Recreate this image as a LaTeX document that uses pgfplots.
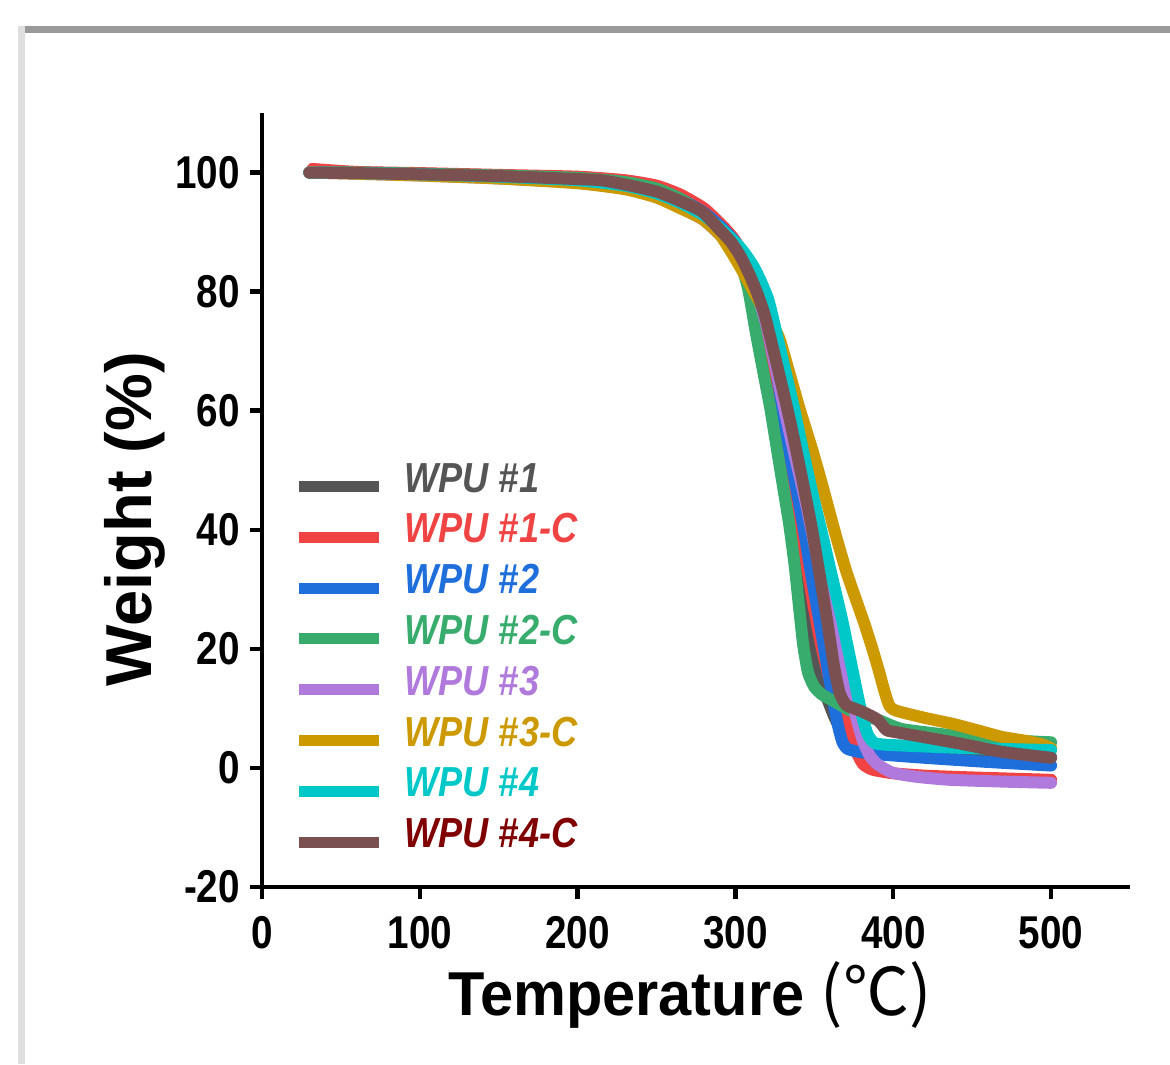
\documentclass[border=0pt]{standalone}
\usepackage{fontspec}
\setmainfont{Liberation Sans}
\newfontfamily\tickfont[FakeStretch=0.84]{Liberation Sans}
\newfontfamily\legfont[FakeStretch=0.86]{Liberation Sans}
\newfontfamily\xlabfont[FakeStretch=0.96]{Liberation Sans}
\newfontfamily\cjk{Noto Sans CJK SC}
\usepackage{pgfplots}
\pgfplotsset{compat=1.18}
\usepackage{pgfplotstable}

\definecolor{cA}{HTML}{555555}
\definecolor{cB}{HTML}{F04343}
\definecolor{cC}{HTML}{1E6EDC}
\definecolor{cD}{HTML}{38AC6C}
\definecolor{cE}{HTML}{B079DC}
\definecolor{cF}{HTML}{CC9A00}
\definecolor{cG}{HTML}{00C8C8}
\definecolor{cH}{HTML}{7B5050}
\definecolor{cHt}{HTML}{800000}

% WPU #1
\pgfplotstableread{
x y
30 100
60 100
100 99.8
150 99.5
200 99.1
230 98.4
250 97.4
265 95.9
280 93.6
292 90.5
298 88.5
303 86
308 82
312 78.5
318 71
325 62
332 51
339 39.6
343 32
347 24.5
350 20
353 16.3
357 12.5
362 9
367 6.2
372 4.4
380 3.7
393 3.3
420 2.7
460 2.1
500 1.8
}\tA

% WPU #1-C
\pgfplotstableread{
x y
32 100.6
60 100.1
100 99.9
150 99.6
200 99.3
230 98.7
250 97.8
265 96.3
280 94
292 91
300 88.5
306 85
311 81
316 76
322 68.5
329 59
336 48.5
343 37.5
349 28
354 21
359 15.5
364 12
368 10
371 8.3
374 5.5
377 2.5
381 0.6
387 -0.3
400 -0.9
420 -1.3
450 -1.6
500 -2
}\tB

% WPU #2
\pgfplotstableread{
x y
30 100
60 99.9
100 99.7
150 99.3
200 98.9
230 98.2
250 97.1
266 95.4
280 93.3
291 90.8
300 88.3
306 86
312 83
317 79.5
322 73.5
326.5 66
331 58
336 50.5
342.5 41.3
348 32.5
353 25
358.5 16.5
362.5 10.5
365.5 6.5
368 4.2
371 3.2
378 2.7
390 2.3
420 1.7
460 1
500 0.4
}\tC

% WPU #2-C
\pgfplotstableread{
x y
30 100
60 100
100 99.8
150 99.5
200 99.1
230 98.4
250 97.3
265 95.6
280 93
292 90
298 88
303 85
308 80.5
313 73
318 66
322 60.5
326 54
330 47.5
334 41
337.5 34
340.5 26.5
343 20.5
346 16
350 13.6
355 12.3
365 10.8
374 9.5
391 8
406 6.5
440 5.4
469 4.7
500 4.3
}\tD

% WPU #3
\pgfplotstableread{
x y
30 100
60 99.8
100 99.5
150 99
200 98.3
230 97.3
250 96
265 94.2
280 92
291 89.3
301 86.5
308 83.3
314 79.5
320 74
326 66.5
332 59
338 52
345 44
352 35
358 27.5
363 22
367 18.5
370.5 15
374 11.2
377.5 7.5
381 4.4
385 2.1
390 0.6
399.5 -0.8
415 -1.5
436 -2
470 -2.3
500 -2.5
}\tE

% WPU #3-C
\pgfplotstableread{
x y
30 100
60 99.8
100 99.5
150 99
200 98.2
230 97.2
250 95.8
265 94
279 92.2
290 89.6
297.7 86.5
305 83.2
312 79.8
318 77
323 74.8
328 72
334 66.5
341 60
348.6 53.5
355 47.5
362.6 40
370 33.2
377 27.8
382 24
387 19.8
391 16.2
394.5 12.8
397.6 10.4
402 9.6
420 8.4
437.7 7.4
455 6.2
469 5.2
485 4.5
495 3.9
500 3.3
}\tF

% WPU #4
\pgfplotstableread{
x y
30 100
60 99.9
100 99.7
150 99.3
200 98.7
230 97.8
250 96.5
266 94.8
280 92.8
291 90.5
301 88
306 86.4
311.5 84.2
316 81.8
321 78.5
326 73
331 67.3
337 60.5
343 53
349 45.8
355 39.2
361 32.3
367.5 25
371 20.5
374.5 16
378 11.5
381 8
384 5.5
388 4.2
395 3.9
420 3.6
450 3.3
500 3
}\tG

% WPU #4-C
\pgfplotstableread{
x y
30 100
60 99.9
100 99.7
150 99.4
200 98.9
215 98.7
230 98
250 96.8
266 95.1
279 93.4
290 90.4
297 88.4
303 86
309 82.8
314 79.6
318.7 75.9
326 68
334 59
341 50.2
348 40.8
353 33
358 24.9
362.5 17
366 12.6
370 10.6
375 10
380 9.5
387 8.6
390 8.1
393 7.2
396 6.3
406 5.8
440 4.2
469 2.7
500 1.7
}\tH

\begin{document}
\begin{tikzpicture}
\fill[black!40] (9pt,515.5pt) rectangle (585pt,519pt);
\fill[black!13] (9pt,0pt) rectangle (12.5pt,519pt);
\begin{axis}[
  at={(131pt,88.5pt)}, anchor=south west,
  scale only axis, width=434pt, height=387pt,
  xmin=0, xmax=550, ymin=-20, ymax=110,
  xtick={0,100,200,300,400,500},
  ytick={-20,0,20,40,60,80,100},
  axis lines*=left,
  axis line style={line width=2.2pt, -},
  tick style={line width=2.2pt, black},
  major tick length=6pt,
  tick align=outside,
  /pgf/number format/assume math mode=true,
  ticklabel style={font=\tickfont\fontsize{23}{27}\selectfont\bfseries},
  xticklabel style={yshift=-5pt},
  yticklabel style={xshift=-1.5pt},
  xlabel={\xlabfont\bfseries Temperature {\mdseries\cjk\fontsize{33}{38}\selectfont (℃)}},
  xlabel style={font=\fontsize{31}{36}\selectfont, at={(axis description cs:0.493,-0.1654)}, anchor=base},
  ylabel={\bfseries Weight (\%)},
  ylabel style={font=\fontsize{32.5}{38}\selectfont, at={(axis description cs:-0.146,0.475)}, anchor=center, rotate=0},
  every axis plot/.append style={line width=6pt, smooth, tension=0.35, line cap=round, line join=round},
  legend image code/.code={\draw[#1, line width=5.5pt, line cap=butt] (0pt,0pt) -- (40pt,0pt);},
  legend style={at={(axis cs:19.8,51.6)}, anchor=north west, draw=none, fill=none, inner sep=0pt,
    font=\legfont\fontsize{21}{25}\selectfont\bfseries\itshape,
    nodes={inner sep=0pt, anchor=west, text height=15.5pt, text depth=9.9pt},
    column sep=10pt},
  legend cell align=left,
]
\addplot[cA] table[x=x,y=y] {\tA}; \addlegendentry{\textcolor{cA}{WPU \#1}}
\addplot[cB] table[x=x,y=y] {\tB}; \addlegendentry{\textcolor{cB}{WPU \#1-C}}
\addplot[cC] table[x=x,y=y] {\tC}; \addlegendentry{\textcolor{cC}{WPU \#2}}
\addplot[cD] table[x=x,y=y] {\tD}; \addlegendentry{\textcolor{cD}{WPU \#2-C}}
\addplot[cE] table[x=x,y=y] {\tE}; \addlegendentry{\textcolor{cE}{WPU \#3}}
\addplot[cF] table[x=x,y=y] {\tF}; \addlegendentry{\textcolor{cF}{WPU \#3-C}}
\addplot[cG] table[x=x,y=y] {\tG}; \addlegendentry{\textcolor{cG}{WPU \#4}}
\addplot[cH] table[x=x,y=y] {\tH}; \addlegendentry{\textcolor{cHt}{WPU \#4-C}}
\end{axis}
\pgfresetboundingbox
\path[use as bounding box] (0pt,0pt) rectangle (585pt,532pt);
\end{tikzpicture}
\end{document}
